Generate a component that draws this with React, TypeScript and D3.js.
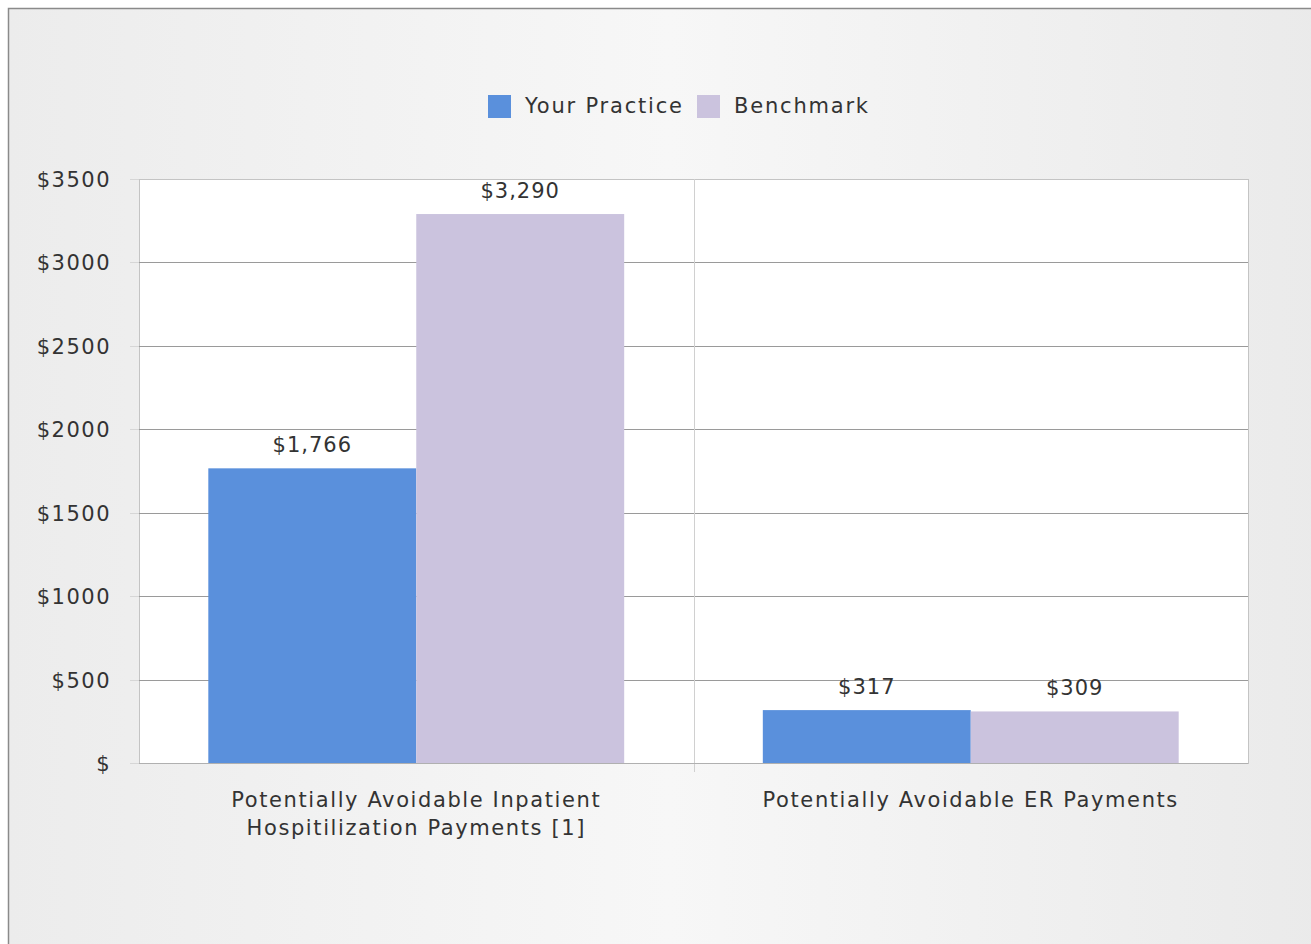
import React from "react";
import * as d3 from "d3";

const categories: string[][] = [
  ["Potentially Avoidable Inpatient", "Hospitilization Payments [1]"],
  ["Potentially Avoidable ER Payments"],
];
const seriesNames = ["Your Practice", "Benchmark"];
const yourPractice = [1766, 317];
const benchmark = [3290, 309];
const yTicks = [0, 500, 1000, 1500, 2000, 2500, 3000, 3500];
const seriesColors = ["#5a90dc", "#cbc3de"];

const W = 1311;
const H = 944;
const FONT = "'DejaVu Sans', Verdana, sans-serif";
const FS = 21;
const LS = 1.5;

export default function App() {
  const plot = { left: 139, right: 1248, top: 179, bottom: 763 };
  const y = d3.scaleLinear().domain([0, 3500]).range([plot.bottom, plot.top]);
  const x0 = d3
    .scaleBand<number>()
    .domain(categories.map((_, i) => i))
    .range([plot.left, plot.right])
    .paddingInner(0)
    .paddingOuter(0);
  const x1 = d3
    .scaleBand<number>()
    .domain([0, 1])
    .range([0, x0.bandwidth()])
    .paddingOuter(1 / 3)
    .paddingInner(0);
  const series = [yourPractice, benchmark];
  const fmt = d3.format(",");

  return (
    <svg
      width={W}
      height={H}
      style={{ position: "absolute", left: 0, top: 0, display: "block" }}
      fontFamily={FONT}
    >
      <defs>
        <linearGradient id="bg" x1="0" x2="1" y1="0" y2="0">
          <stop offset="0" stopColor="#ececec" />
          <stop offset="0.5" stopColor="#f7f7f7" />
          <stop offset="1" stopColor="#eaeaea" />
        </linearGradient>
      </defs>
      <rect x={0} y={0} width={W} height={H} fill="#ffffff" />
      <rect x={8.5} y={8.5} width={W + 10} height={H + 10} fill="url(#bg)" stroke="#8a8a8a" strokeWidth={1.5} />

      {/* legend */}
      {seriesNames.map((name, i) => {
        const lx = [488, 697][i];
        return (
          <g key={name}>
            <rect x={lx} y={95} width={23} height={23} fill={seriesColors[i]} />
            <text x={lx + 37} y={113} fontSize={FS} letterSpacing={1.8} fill="#333">
              {name}
            </text>
          </g>
        );
      })}

      {/* plot area */}
      <rect x={plot.left + 0.5} y={plot.top + 0.5} width={plot.right - plot.left} height={plot.bottom - plot.top} fill="#ffffff" stroke="#c4c4c4" />

      {/* gridlines and y ticks */}
      {yTicks.map((t) => (
        <g key={t}>
          {t !== 0 && t !== 3500 && (
            <line x1={plot.left} x2={plot.right} y1={Math.round(y(t)) + 0.5} y2={Math.round(y(t)) + 0.5} stroke="#9a9a9a" />
          )}
          <line x1={plot.left - 9} x2={plot.left} y1={Math.round(y(t)) + 0.5} y2={Math.round(y(t)) + 0.5} stroke="#d6d6d6" />
          <text x={111} y={y(t) + 8} textAnchor="end" fontSize={FS} letterSpacing={LS} fill="#333">
            {t === 0 ? "$" : "$" + t}
          </text>
        </g>
      ))}

      {/* category divider */}
      {categories.slice(1).map((_, i) => (
        <line
          key={i}
          x1={Math.round(x0(i + 1)!) + 0.5}
          x2={Math.round(x0(i + 1)!) + 0.5}
          y1={plot.top}
          y2={plot.bottom + 9}
          stroke="#d0d0d0"
        />
      ))}

      {/* bars */}
      {categories.map((_, ci) =>
        series.map((vals, si) => {
          const bx = x0(ci)! + x1(si)!;
          const bw = x1.bandwidth();
          const v = vals[ci];
          return (
            <g key={`${ci}-${si}`}>
              <rect x={bx} y={y(v)} width={bw} height={plot.bottom - y(v)} fill={seriesColors[si]} />
              <text x={bx + bw / 2} y={y(v) - 16} textAnchor="middle" fontSize={FS} letterSpacing={1} fill="#333">
                {"$" + fmt(v)}
              </text>
            </g>
          );
        })
      )}

      {/* baseline */}
      <line x1={plot.left} x2={plot.right} y1={plot.bottom + 0.5} y2={plot.bottom + 0.5} stroke="#b0b0b0" />

      {/* x labels */}
      {categories.map((lines, ci) => (
        <text key={ci} textAnchor="middle" fontSize={FS} letterSpacing={1.6} fill="#333">
          {lines.map((l, li) => (
            <tspan key={li} x={x0(ci)! + x0.bandwidth() / 2} y={807 + li * 28}>
              {l}
            </tspan>
          ))}
        </text>
      ))}
    </svg>
  );
}
